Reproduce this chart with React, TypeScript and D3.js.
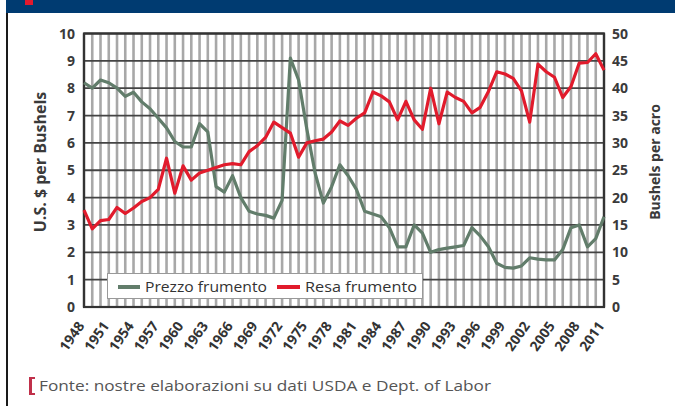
import React, { useEffect, useRef } from 'react';
import * as d3 from 'd3';

const years = [
  1948, 1949, 1950, 1951, 1952, 1953, 1954, 1955, 1956, 1957,
  1958, 1959, 1960, 1961, 1962, 1963, 1964, 1965, 1966, 1967,
  1968, 1969, 1970, 1971, 1972, 1973, 1974, 1975, 1976, 1977,
  1978, 1979, 1980, 1981, 1982, 1983, 1984, 1985, 1986, 1987,
  1988, 1989, 1990, 1991, 1992, 1993, 1994, 1995, 1996, 1997,
  1998, 1999, 2000, 2001, 2002, 2003, 2004, 2005, 2006, 2007,
  2008, 2009, 2010, 2011
];

// Prezzo frumento (U.S. $ per bushel, left axis)
const prezzo = [
  8.2, 8.0, 8.3, 8.2, 8.0, 7.7, 7.85, 7.5, 7.25, 6.9,
  6.55, 6.05, 5.85, 5.85, 6.7, 6.4, 4.4, 4.2, 4.8, 4.0,
  3.5, 3.4, 3.35, 3.25, 3.9, 9.1, 8.3, 6.5, 4.9, 3.8,
  4.4, 5.2, 4.8, 4.3, 3.5, 3.4, 3.3, 2.9, 2.2, 2.2,
  3.0, 2.7, 2.0, 2.1, 2.15, 2.2, 2.25, 2.9, 2.6, 2.2,
  1.6, 1.45, 1.42, 1.5, 1.8, 1.75, 1.72, 1.72, 2.1, 2.9,
  3.0, 2.2, 2.5, 3.3
];

// Resa frumento (bushels per acre, right axis)
const resa = [
  17.7, 14.3, 15.8, 16.0, 18.2, 17.1, 18.1, 19.3, 20.0, 21.5,
  27.2, 20.8, 25.8, 23.2, 24.5, 25.0, 25.5, 26.0, 26.2, 26.0,
  28.4, 29.5, 31.0, 33.8, 32.8, 31.8, 27.4, 30.0, 30.4, 30.7,
  32.0, 34.0, 33.2, 34.5, 35.5, 39.3, 38.6, 37.5, 34.2, 37.6,
  34.2, 32.5, 40.0, 33.5, 39.3, 38.3, 37.6, 35.5, 36.5, 39.4,
  43.0, 42.6, 41.8, 39.5, 33.8, 44.4, 43.0, 42.0, 38.3, 40.3,
  44.6, 44.7, 46.3, 43.3
];

const xTickYears = [
  1948, 1951, 1954, 1957, 1960, 1963, 1966, 1969, 1972, 1975, 1978,
  1981, 1984, 1987, 1990, 1993, 1996, 1999, 2002, 2005, 2008, 2011
];
const leftTicks = [0, 1, 2, 3, 4, 5, 6, 7, 8, 9, 10];
const rightTicks = [0, 5, 10, 15, 20, 25, 30, 35, 40, 45, 50];

const FONT = "'Liberation Sans Narrow', 'Open Sans', sans-serif";

export default function App() {
  const chartRef = useRef(null);

  useEffect(() => {
    const width = 675;
    const height = 406;
    const left = 84, right = 604, top = 33.5, bottom = 307;

    const svg = d3.select(chartRef.current);
    svg.selectAll("*").remove();
    svg.attr("width", width).attr("height", height);

    // header band + left border
    svg.append("rect").attr("x", 6).attr("y", 0).attr("width", width - 6).attr("height", 13).attr("fill", "#003b71");
    svg.append("rect").attr("x", 25).attr("y", 0).attr("width", 8).attr("height", 5).attr("fill", "#e3192d");
    svg.append("rect").attr("x", 6).attr("y", 13).attr("width", 2).attr("height", height - 13).attr("fill", "#1a1a1a");

    const xScale = d3.scaleLinear().domain([1948, 2011]).range([left, right]);
    const yLeft = d3.scaleLinear().domain([0, 10]).range([bottom, top]);
    const yRight = d3.scaleLinear().domain([0, 50]).range([bottom, top]);

    const g = svg.append("g");

    // vertical grid, one per year
    g.selectAll(".vgrid")
      .data(years)
      .enter().append("line")
      .attr("x1", d => xScale(d)).attr("x2", d => xScale(d))
      .attr("y1", top).attr("y2", bottom)
      .attr("stroke", "#a8a8a8")
      .attr("stroke-width", 2.6);

    // horizontal grid
    g.selectAll(".hgrid")
      .data(leftTicks)
      .enter().append("line")
      .attr("x1", left).attr("x2", right)
      .attr("y1", d => yLeft(d)).attr("y2", d => yLeft(d))
      .attr("stroke", "#444")
      .attr("stroke-width", 1.8);

    // frame
    g.append("rect")
      .attr("x", left).attr("y", top)
      .attr("width", right - left).attr("height", bottom - top)
      .attr("fill", "none").attr("stroke", "#333").attr("stroke-width", 2.2);

    // left ticks
    svg.append("g").selectAll("text")
      .data(leftTicks)
      .enter().append("text")
      .attr("x", 75).attr("y", d => yLeft(d))
      .attr("dy", "0.36em")
      .attr("text-anchor", "end")
      .attr("font-family", FONT).attr("font-weight", "bold")
      .attr("font-size", 14).attr("fill", "#3a3a3a")
      .text(d => d);

    // right ticks
    svg.append("g").selectAll("text")
      .data(rightTicks)
      .enter().append("text")
      .attr("x", 612).attr("y", d => yRight(d))
      .attr("dy", "0.36em")
      .attr("font-family", FONT).attr("font-weight", "bold")
      .attr("font-size", 14).attr("fill", "#3a3a3a")
      .text(d => d);

    // x tick labels
    svg.append("g").selectAll("text")
      .data(xTickYears)
      .enter().append("text")
      .attr("transform", d => "translate(" + (xScale(d) + 1) + ",326) rotate(-55)")
      .attr("text-anchor", "end")
      .attr("font-family", FONT).attr("font-weight", "bold")
      .attr("font-size", 14).attr("fill", "#333")
      .text(d => d);

    // axis titles
    svg.append("text")
      .attr("transform", "translate(46,162) rotate(-90)")
      .attr("text-anchor", "middle")
      .attr("font-family", FONT).attr("font-weight", "bold")
      .attr("font-size", 16).attr("fill", "#3a3a3a")
      .text("U.S. $ per Bushels");

    svg.append("text")
      .attr("transform", "translate(660,162) rotate(-90)")
      .attr("text-anchor", "middle")
      .attr("font-family", FONT).attr("font-weight", "bold")
      .attr("font-size", 14).attr("fill", "#3a3a3a")
      .text("Bushels per acro");

    // lines
    const priceLine = d3.line<number>()
      .x((d, i) => xScale(years[i]))
      .y(d => yLeft(d));
    const yieldLine = d3.line<number>()
      .x((d, i) => xScale(years[i]))
      .y(d => yRight(d));

    svg.append("path")
      .datum(prezzo)
      .attr("d", priceLine)
      .attr("fill", "none")
      .attr("stroke", "#627d6b")
      .attr("stroke-width", 3.2)
      .attr("stroke-linejoin", "round");

    svg.append("path")
      .datum(resa)
      .attr("d", yieldLine)
      .attr("fill", "none")
      .attr("stroke", "#e11b2c")
      .attr("stroke-width", 3.2)
      .attr("stroke-linejoin", "round");

    // legend
    const lg = svg.append("g");
    lg.append("rect")
      .attr("x", 107.5).attr("y", 273.5).attr("width", 315).attr("height", 25)
      .attr("fill", "#fff").attr("stroke", "#999").attr("stroke-width", 1);
    lg.append("line").attr("x1", 118).attr("x2", 140).attr("y1", 287).attr("y2", 287)
      .attr("stroke", "#627d6b").attr("stroke-width", 4);
    lg.append("text").attr("x", 145).attr("y", 292)
      .attr("font-family", FONT).attr("font-size", 15).attr("fill", "#333")
      .attr("textLength", 122).attr("lengthAdjust", "spacingAndGlyphs")
      .text("Prezzo frumento");
    lg.append("line").attr("x1", 277).attr("x2", 300).attr("y1", 287).attr("y2", 287)
      .attr("stroke", "#e11b2c").attr("stroke-width", 4);
    lg.append("text").attr("x", 305).attr("y", 292)
      .attr("font-family", FONT).attr("font-size", 15).attr("fill", "#333")
      .attr("textLength", 112).attr("lengthAdjust", "spacingAndGlyphs")
      .text("Resa frumento");

    // source note
    svg.append("rect").attr("x", 29).attr("y", 377).attr("width", 3).attr("height", 18).attr("fill", "#c0304a");
    svg.append("rect").attr("x", 29).attr("y", 377).attr("width", 6).attr("height", 2).attr("fill", "#c0304a");
    svg.append("rect").attr("x", 29).attr("y", 393).attr("width", 6).attr("height", 2).attr("fill", "#c0304a");
    svg.append("text").attr("x", 39).attr("y", 391)
      .attr("font-family", FONT).attr("font-size", 15).attr("fill", "#555")
      .attr("textLength", 452).attr("lengthAdjust", "spacingAndGlyphs")
      .text("Fonte:  nostre elaborazioni su dati USDA e Dept. of Labor");
  }, []);

  return (
    <svg ref={chartRef} style={{ position: "absolute", left: 0, top: 0 }} />
  );
}
